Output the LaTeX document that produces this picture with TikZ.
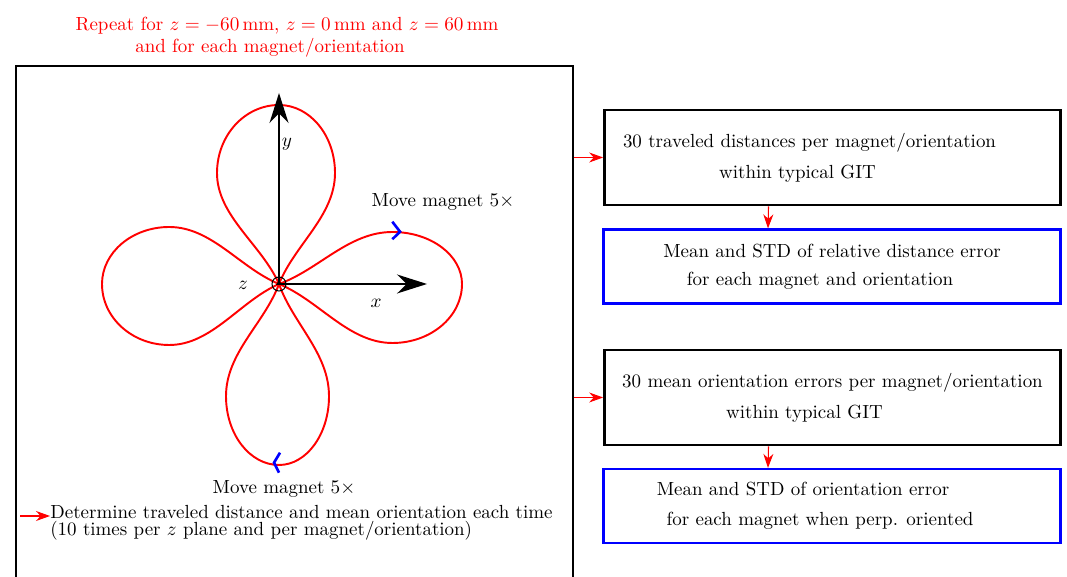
\documentclass[tikz,border=0pt]{standalone}
\usetikzlibrary{arrows.meta, positioning}

\begin{document}
\begin{tikzpicture}[x=0.02cm, y=0.02cm, font=\fontsize{10.8}{12.8}\selectfont,
  res/.style={draw, line width=1.6pt, minimum width=9.12cm, minimum height=1.9cm, align=center},
  stat/.style={draw=blue, line width=1.3pt, minimum width=9.14cm, minimum height=1.48cm, align=center},
  flow/.style={-{Stealth[length=2.8mm, width=2mm]}, red, line width=0.6pt},
  axis/.style={-{Stealth[length=6mm, width=3.8mm]}, line width=0.9pt},
  lobe/.style={red, line width=1.1pt},
  chev/.style={blue, line width=1.5pt}]
\useasboundingbox (0,0) rectangle (1067,577);
% measurement frame, runs past the lower edge
\node[draw, line width=1.1pt, minimum width=11.14cm, minimum height=11.2cm] (frame) at (294.5,231) {};
\node[red, align=center] (rep) at (287,540) {Repeat for $z=-60\,$mm, $z=0\,$mm and $z=60\,$mm\\and for each magnet/orientation\hspace*{0.68cm}};
% trajectory in the xy plane: two figure-eights
\coordinate (O) at (279,293);
\begin{scope}[shift={(O)}]
\foreach \ang/\len/\wa/\wb in {0/183/52/59, 90/179/62/56, 180/177/61/57, 270/181/50/53}
  \draw[lobe, rotate=\ang] (0,0) .. controls ({0.22*\len},{0.28*\wa}) and ({0.38*\len},\wa) .. ({0.62*\len},\wa)
    .. controls ({0.83*\len},\wa) and (\len,{0.552*\wa}) .. (\len,0)
    .. controls (\len,{-0.552*\wb}) and ({0.83*\len},-\wb) .. ({0.62*\len},-\wb)
    .. controls ({0.38*\len},-\wb) and ({0.22*\len},{-0.28*\wb}) .. (0,0);
\end{scope}
\coordinate (ytip) at (279,484);
\coordinate (xtip) at (427,293);
\draw[axis] (O) -- (ytip);
\draw[axis] (O) -- (xtip);
\draw[line width=0.6pt] (O) circle[radius=0.14cm];
\fill ([shift={(-3,-1)}]O) -- ++(6,0) -- ++(-3,5) -- cycle;
\node (ylab) at (287,433) {$y$};
\node (xlab) at (376,274) {$x$};
\node (zlab) at (243,292) {$z$};
\draw[chev] (392.3,355.3) -- (400,345.3) -- (392.3,337.7);
\draw[chev] (280,124.3) -- (274,114.3) -- (279,104.3);
\node (move1) at (443,375) {Move magnet $5\times$};
\node (move2) at (284,88) {Move magnet $5\times$};
\node[anchor=west, align=left, inner sep=0pt, font=\fontsize{10.8}{10}\selectfont] (note) at (50,54) {Determine traveled distance and mean orientation each time\\(10 times per $z$ plane and per magnet/orientation)};
\coordinate (src) at (20,61);
\draw[flow] (src) -- (src -| note.west);
% results
\node[res] (dist) at (832.5,419.5) {30 traveled distances per magnet/orientation\hspace*{0.92cm}\\[5pt]within typical GIT\hspace*{1.4cm}};
\node[stat] (reldist) at (832,310.5) {Mean and STD of relative distance error\\[3pt]for each magnet and orientation\hspace*{0.48cm}};
\node[res] (orient) at (832.5,179.5) {30 mean orientation errors per magnet/orientation\\[5pt]within typical GIT\hspace*{1.12cm}};
\node[stat] (orierr) at (832,71) {Mean and STD of orientation error\hspace*{1.16cm}\\[4pt]for each magnet when perp. oriented\hspace*{0.48cm}};
\draw[flow] (frame.east |- dist.west) -- (dist.west);
\draw[flow] (frame.east |- orient.west) -- (orient.west);
\draw[flow] ([xshift=-1.28cm]dist.south) -- ([xshift=-1.28cm]reldist.north);
\draw[flow] ([xshift=-1.28cm]orient.south) -- ([xshift=-1.28cm]orierr.north);
\end{tikzpicture}
\end{document}
